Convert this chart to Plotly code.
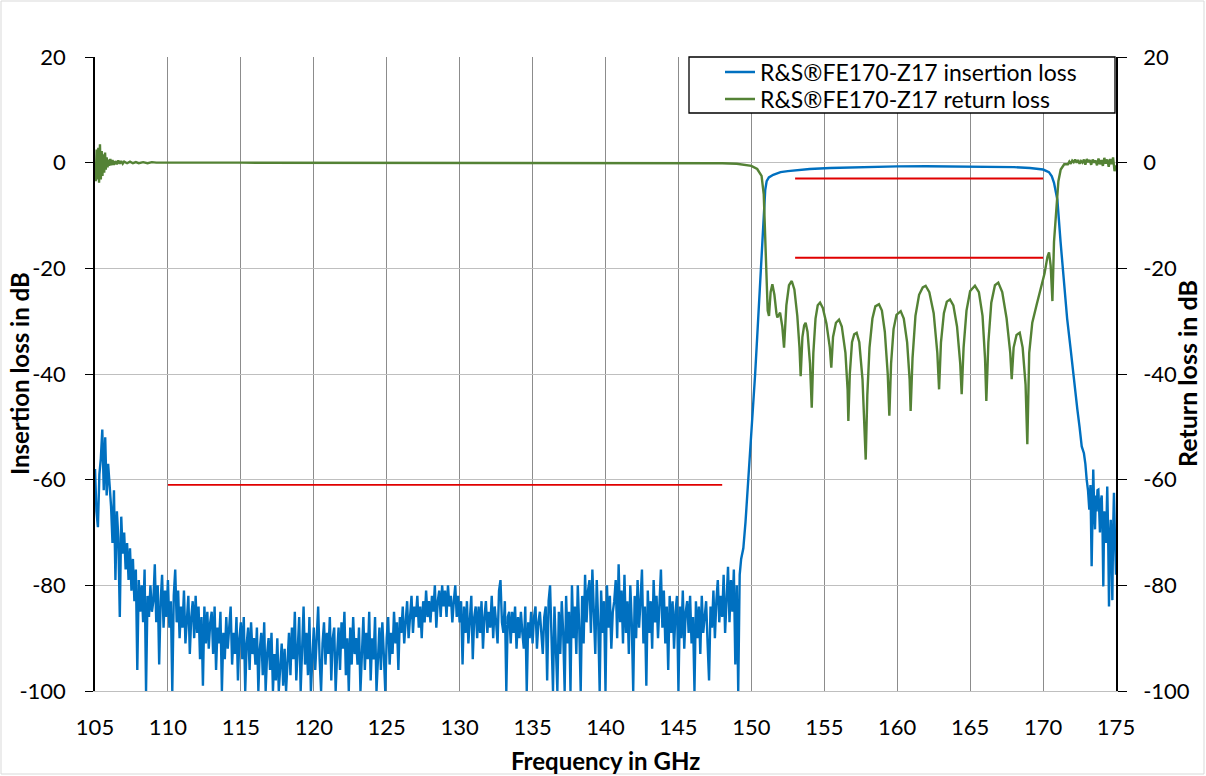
import plotly.graph_objects as go

# ---------------- data ----------------
FREQ_TICKS = [105, 110, 115, 120, 125, 130, 135, 140, 145, 150, 155, 160, 165, 170, 175]
DB_TICKS = [20, 0, -20, -40, -60, -80, -100]

# Insertion loss, stop band: measured on a regular 0.1 GHz grid starting at 105.0 GHz
IL_STOP_START_GHZ = 105.0
IL_STOP_STEP_GHZ = 0.1
IL_STOP_DB = [
    -58, -66, -69, -59, -56, -50.5, -62, -52, -63, -57,   # 105
    -61, -65, -72, -62, -79, -66, -71, -86, -67, -74,     # 106
    -70, -77, -72, -79, -73, -81, -75, -83, -77, -96,     # 107
    -79, -85, -80, -87, -77, -100, -82, -86, -80, -85,    # 108
    -83, -76, -87, -80, -95, -83, -78, -88, -81, -86,     # 109
    -79, -88, -83, -100, -82, -77, -87, -81, -90, -84,    # 110
    -88, -81, -91, -85, -82, -93, -86, -83, -90, -82,     # 111
    -89, -84, -94, -86, -99, -84, -91, -85, -92, -87,     # 112
    -85, -93, -84, -96, -88, -91, -85, -100, -89, -94,    # 113
    -86, -92, -88, -84, -95, -89, -93, -86, -98, -90,     # 114
    -87, -94, -86, -100, -91, -88, -96, -87, -93, -90,    # 115
    -95, -88, -100, -92, -89, -97, -87, -100, -93, -90,   # 116
    -96, -89, -100, -93, -98, -90, -100, -94, -91, -99,   # 117
    -92, -100, -95, -89, -97, -88, -94, -85, -98, -91,    # 118
    -86, -100, -90, -84, -95, -89, -97, -86, -100, -92,   # 119
    -88, -96, -90, -84, -94, -100, -91, -87, -95, -89,   # 120
    -93, -86, -98, -90, -88, -100, -93, -88, -96, -87,   # 121
    -92, -85, -97, -90, -100, -88, -95, -86, -93, -90,   # 122
    -95, -88, -100, -91, -86, -96, -89, -94, -85, -98,   # 123
    -90, -94, -86, -100, -92, -88, -96, -87, -93, -100,  # 124
    -90, -86, -95, -89, -93, -85, -91, -87, -96, -86,    # 125
    -89, -84, -91, -86, -83, -90, -85, -82, -89, -84,    # 126
    -86, -82, -88, -84, -90, -83, -87, -81, -86, -83,    # 127
    -87, -82, -85, -80, -88, -83, -81, -86, -80, -84,    # 128
    -81, -86, -80, -84, -82, -87, -83, -80, -86, -82,    # 129
    -87, -83, -95, -84, -89, -83, -91, -85, -82, -94,    # 130
    -86, -84, -90, -84, -89, -83, -92, -86, -83, -89,    # 131
    -85, -88, -82, -90, -84, -87, -91, -81, -79, -87,    # 132
    -89, -83, -100, -86, -85, -91, -85, -89, -84, -92,   # 133
    -86, -90, -85, -89, -92, -84, -100, -87, -90, -85,   # 134
    -91, -86, -84, -92, -87, -85, -90, -93, -86, -84,    # 135
    -98, -83, -80, -89, -100, -84, -91, -100, -85, -93,  # 136
    -83, -89, -100, -82, -91, -85, -100, -80, -90, -84,  # 137
    -93, -80, -88, -100, -82, -91, -78, -87, -81, -79,   # 138
    -89, -77, -85, -93, -79, -87, -100, -81, -89, -83,   # 139
    -100, -80, -88, -82, -92, -85, -83, -79, -90, -76,   # 140
    -87, -81, -91, -78, -89, -83, -93, -80, -87, -100,   # 141
    -82, -90, -79, -88, -83, -77, -91, -84, -99, -81,    # 142
    -89, -83, -92, -79, -87, -82, -90, -83, -77, -88,    # 143
    -81, -91, -84, -96, -82, -89, -83, -92, -85, -82,    # 144
    -100, -84, -90, -81, -92, -85, -83, -89, -82, -91,   # 145
    -86, -100, -83, -90, -84, -93, -82, -89, -85, -83,   # 146
    -91, -98, -84, -88, -81, -90, -83, -79, -87, -82,    # 147
    -86, -78, -89, -81, -76.5, -87, -79, -85, -77, -95,  # 148
    -80, -100, -78, -75,                                 # 149.0 - 149.3
]

# Insertion loss, pass band and upper skirt
IL_PASS_FREQ = [149.45, 149.6, 149.75, 149.86, 150.0, 150.15, 150.26, 150.4, 150.55, 150.7,
                150.85, 150.95, 151.05, 151.2, 151.5, 152.0, 152.5, 153.1, 154.0, 155.4,
                157.0, 158.5, 160.0, 162.0, 164.5, 166.5, 168.0, 169.1, 170.0, 170.4,
                170.6, 170.75, 170.9, 170.98, 171.2, 171.43, 171.65, 171.89, 172.1, 172.35,
                172.5, 172.65, 172.8, 172.9, 172.99, 173.08, 173.17, 173.25, 173.33, 173.44,
                173.5, 173.56, 173.62, 173.67, 173.73, 173.79, 173.85, 173.9, 173.96, 174.02,
                174.08, 174.13, 174.19, 174.25, 174.32, 174.4, 174.46, 174.52, 174.58, 174.64,
                174.7, 174.75, 174.8, 174.86, 174.93, 175.0]
IL_PASS_DB = [-73, -68, -62, -58, -52, -45, -40, -33, -25.5, -17.5,
              -9.5, -5.2, -3.5, -2.8, -2.3, -1.8, -1.6, -1.45, -1.2, -1.0,
              -0.85, -0.75, -0.7, -0.68, -0.7, -0.75, -0.85, -1.0, -1.3, -1.8,
              -2.6, -3.8, -5.5, -7, -15, -22.7, -29.5, -35.3, -41, -46.7,
              -50, -53.7, -55, -57, -60, -62, -65.7, -61, -76.4, -58.1,
              -65, -69.4, -63, -66, -62, -61.9, -66, -70, -64, -63,
              -70, -80.2, -66, -67, -72, -61.3, -70, -84, -72, -67.6,
              -75, -82.8, -70, -62.5, -71, -78]

# Return loss
RL_FREQ = [105.0, 105.05, 105.11, 105.17, 105.23, 105.28, 105.34, 105.4, 105.46, 105.51,
           105.57, 105.63, 105.69, 105.74, 105.8, 105.86, 105.91, 105.97, 106.05, 106.12,
           106.2, 106.3, 106.4, 106.5, 106.6, 106.7, 106.8, 106.9, 107.0, 107.2,
           107.4, 107.6, 107.8, 108.0, 108.3, 108.6, 108.9, 109.2, 115.0, 125.0,
           135.0, 145.0, 148.0, 149.0, 149.6, 150.0, 150.4, 150.7, 150.85, 150.98,
           151.05, 151.12, 151.21, 151.32, 151.44, 151.58, 151.72, 151.78, 151.97, 152.12,
           152.24, 152.4, 152.58, 152.77, 152.95, 153.15, 153.3, 153.38, 153.5, 153.62,
           153.72, 153.85, 154.02, 154.14, 154.25, 154.4, 154.55, 154.71, 154.9, 155.15,
           155.38, 155.48, 155.6, 155.8, 156.01, 156.2, 156.45, 156.6, 156.65, 156.75,
           156.9, 157.05, 157.22, 157.4, 157.62, 157.78, 157.84, 157.95, 158.1, 158.3,
           158.5, 158.75, 158.95, 159.15, 159.35, 159.46, 159.58, 159.75, 159.95, 160.24,
           160.45, 160.68, 160.85, 160.92, 161.05, 161.25, 161.5, 161.75, 161.95, 162.2,
           162.5, 162.75, 162.87, 163.0, 163.2, 163.4, 163.62, 163.85, 164.1, 164.32,
           164.42, 164.55, 164.75, 165.0, 165.33, 165.6, 165.85, 166.02, 166.11, 166.25,
           166.45, 166.7, 166.93, 167.2, 167.5, 167.75, 167.85, 167.98, 168.18, 168.4,
           168.6, 168.8, 168.92, 169.05, 169.26, 169.55, 169.84, 170.1, 170.3, 170.41,
           170.52, 170.64, 170.75, 170.86, 171.05, 171.21, 171.45, 171.7, 171.8, 171.9,
           172.0, 172.1, 172.2, 172.3, 172.4, 172.5, 172.6, 172.7, 172.8, 172.9,
           173.0, 173.1, 173.2, 173.3, 173.4, 173.5, 173.6, 173.7, 173.8, 173.9,
           174.0, 174.1, 174.2, 174.3, 174.4, 174.5, 174.6, 174.7, 174.8, 174.9,
           175.0]
RL_DB = [-1.0, -3.5, 2.5, -3.2, 2.8, -3.8, 3.5, -3.2, 2.2, -2.5,
         1.6, -1.9, 1.9, -1.3, 1.0, -0.9, 0.6, -0.6, 0.7, -0.5,
         0.5, -0.4, 0.3, -0.3, 0.4, -0.2, 0.3, -0.2, 0.2, -0.1,
         0.2, -0.1, 0.1, -0.1, 0.1, -0.1, 0.1, 0.0, 0.0, 0.0,
         0.0, 0.0, -0.1, -0.2, -0.4, -0.6, -1.2, -2.5, -6.0, -16.4,
         -24.0, -28.0, -29.0, -24.5, -23.0, -25.0, -28.5, -29.3, -28.4, -31.0,
         -35.0, -27.0, -23.2, -22.4, -24.0, -29.0, -35.0, -40.4, -33.0, -30.8,
         -30.3, -32.0, -38.0, -46.4, -36.0, -29.5, -27.0, -26.5, -27.5, -30.5,
         -35.0, -38.8, -33.0, -30.3, -29.7, -31.0, -36.0, -43.0, -48.9, -40.0,
         -34.0, -32.5, -32.2, -34.0, -41.0, -50.0, -56.2, -44.0, -35.0, -29.5,
         -27.2, -26.8, -28.0, -32.0, -40.0, -47.9, -38.0, -31.5, -28.8, -28.1,
         -29.5, -34.0, -41.0, -47.0, -37.0, -29.0, -25.0, -23.6, -23.3, -24.5,
         -28.5, -36.0, -42.9, -34.0, -28.5, -26.3, -25.9, -27.0, -31.0, -38.0,
         -43.8, -35.0, -28.0, -24.3, -23.3, -24.5, -29.0, -37.0, -45.1, -34.0,
         -26.5, -23.2, -22.7, -24.5, -29.5, -36.0, -41.0, -35.0, -32.6, -32.2,
         -35.0, -42.0, -53.3, -36.0, -30.3, -27.0, -24.0, -21.0, -17.8, -17.0,
         -19.5, -26.2, -15.0, -10.1, -3.5, -1.3, -0.3, -0.3, 0.2, -0.2,
         0.4, 0.1, 0.6, 0.0, 0.5, -0.2, 0.3, 0.0, 0.6, -0.4,
         0.7, 0.1, 0.5, -0.4, 0.6, 0.0, 0.4, -0.5, 0.8, -0.3,
         0.5, -0.6, 0.9, -0.2, 0.6, -0.8, 0.7, -0.3, 1.0, -1.6,
         -0.5]

# Specification masks (red lines)
SPEC_STOP_FREQ = [110, 148]
SPEC_STOP_DB = [-61, -61]
SPEC_IL_FREQ = [153, 170]
SPEC_IL_DB = [-3, -3]
SPEC_RL_FREQ = [153, 170]
SPEC_RL_DB = [-18, -18]

IL_NAME = "R&S®FE170-Z17 insertion loss"
RL_NAME = "R&S®FE170-Z17 return loss"

# ---------------- figure ----------------
il_freq = [round(IL_STOP_START_GHZ + i * IL_STOP_STEP_GHZ, 3) for i in range(len(IL_STOP_DB))] + IL_PASS_FREQ
il_db = IL_STOP_DB + IL_PASS_DB

W, H = 1206, 776
ML, MR, MT, MB = 95, 90, 57, 85
PW, PH = W - ML - MR, H - MT - MB

def px_x(px):
    return (px - ML) / PW

def px_y(py):
    return 1 - (py - MT) / PH

FONT = "Lato"
BLUE = "#0070c0"
GREEN = "#548235"
RED = "#e00000"

fig = go.Figure()
fig.add_trace(go.Scatter(x=il_freq, y=il_db, mode="lines", name=IL_NAME,
                         line=dict(color=BLUE, width=2.4), yaxis="y", legend="legend"))
fig.add_trace(go.Scatter(x=RL_FREQ, y=RL_DB, mode="lines", name=RL_NAME,
                         line=dict(color=GREEN, width=2.4), yaxis="y2", legend="legend2"))
for fx, fy in [(SPEC_STOP_FREQ, SPEC_STOP_DB), (SPEC_IL_FREQ, SPEC_IL_DB), (SPEC_RL_FREQ, SPEC_RL_DB)]:
    fig.add_trace(go.Scatter(x=fx, y=fy, mode="lines", showlegend=False,
                             line=dict(color=RED, width=1.8), yaxis="y", hoverinfo="skip"))

tickfont = dict(family=FONT, size=22, color="#000000")
legfont = dict(family=FONT, size=23, color="#000000")
fig.update_layout(
    width=W, height=H,
    margin=dict(l=ML, r=MR, t=MT, b=MB, pad=0),
    paper_bgcolor="white", plot_bgcolor="white",
    font=dict(family=FONT, color="#000000"),
    xaxis=dict(range=[105, 175], tickvals=FREQ_TICKS, ticktext=[str(v) for v in FREQ_TICKS],
               showgrid=True, gridcolor="#8c8c8c", gridwidth=1.3,
               showline=True, linecolor="#bfbfbf", linewidth=1.3,
               ticks="", tickfont=tickfont, ticklabelstandoff=16, zeroline=False),
    yaxis=dict(range=[-100, 20], tickvals=DB_TICKS, ticktext=[str(v) for v in DB_TICKS],
               showgrid=True, gridcolor="#bfbfbf", gridwidth=1.3,
               showline=True, linecolor="#000000", linewidth=1.5,
               ticks="outside", ticklen=8, tickwidth=1.3, tickcolor="#000000",
               tickfont=tickfont, ticklabelstandoff=15, zeroline=False),
    yaxis2=dict(range=[-100, 20], tickvals=DB_TICKS, ticktext=[str(v) for v in DB_TICKS],
                overlaying="y", side="right", showgrid=False,
                showline=True, linecolor="#000000", linewidth=1.5,
                ticks="outside", ticklen=9, tickwidth=1.3, tickcolor="#000000",
                tickfont=tickfont, ticklabelstandoff=12, zeroline=False),
    showlegend=True,
    legend=dict(x=px_x(720), y=px_y(72), xanchor="left", yanchor="middle",
                bgcolor="rgba(0,0,0,0)", borderwidth=0, font=legfont),
    legend2=dict(x=px_x(720), y=px_y(99), xanchor="left", yanchor="middle",
                 bgcolor="rgba(0,0,0,0)", borderwidth=0, font=legfont),
    shapes=[
        dict(type="rect", xref="paper", yref="paper",
             x0=px_x(689), x1=px_x(1115), y0=px_y(113), y1=px_y(57),
             fillcolor="white", line=dict(color="#000000", width=1.3), layer="above"),
        dict(type="rect", xref="paper", yref="paper",
             x0=px_x(1), x1=px_x(1204), y0=px_y(774), y1=px_y(1),
             fillcolor="rgba(0,0,0,0)", line=dict(color="#d9d9d9", width=1), layer="below"),
    ],
    annotations=[
        dict(text="<b>Frequency in GHz</b>", xref="paper", yref="paper",
             x=0.5, y=px_y(760), xanchor="center", yanchor="middle", showarrow=False,
             font=dict(family=FONT, size=24, color="#000000")),
        dict(text="<b>Insertion loss in dB</b>", xref="paper", yref="paper",
             x=px_x(19), y=0.5, xanchor="center", yanchor="middle", showarrow=False,
             textangle=-90, font=dict(family=FONT, size=24, color="#000000")),
        dict(text="<b>Return loss in dB</b>", xref="paper", yref="paper",
             x=px_x(1187), y=0.5, xanchor="center", yanchor="middle", showarrow=False,
             textangle=-90, font=dict(family=FONT, size=25, color="#000000")),
    ],
)

fig.write_html("out.html")
